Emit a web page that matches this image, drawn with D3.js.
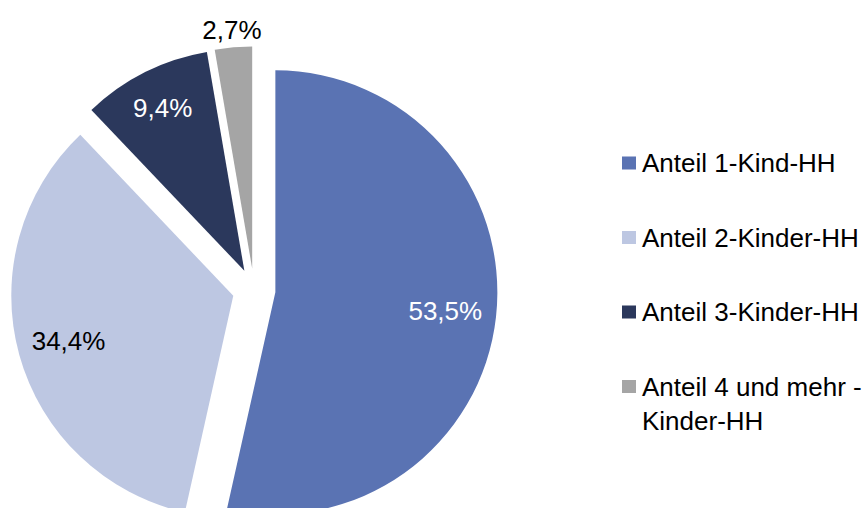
<!DOCTYPE html>
<html>
<head>
<meta charset="utf-8">
<script src="https://cdn.jsdelivr.net/npm/d3@7"></script>
<style>
  body { margin: 0; background: #fff; }
  svg { display: block; font-family: "Liberation Sans", Arial, sans-serif; }
</style>
</head>
<body>
<div id="chart"></div>
<script>
// data
var categories = ["Anteil 1-Kind-HH", "Anteil 2-Kinder-HH", "Anteil 3-Kinder-HH", "Anteil 4 und mehr -\nKinder-HH"];
var values = [53.5, 34.4, 9.4, 2.7];
var labels = ["53,5%", "34,4%", "9,4%", "2,7%"];
var colors = ["#5a73b3", "#bdc7e2", "#2b385c", "#a5a5a5"];

var width = 868, height = 508;
var cx = 254, cy = 290, r = 222, explode = 21.5;

var svg = d3.select("#chart").append("svg")
    .attr("width", width)
    .attr("height", height);

var data = values.map(function(v, i) { return { name: categories[i], value: v, label: labels[i], color: colors[i] }; });

// first slice starts at 12 o'clock and goes clockwise
var pie = d3.pie().value(function(d) { return d.value; }).sort(null);
var arc = d3.arc().innerRadius(0).outerRadius(r);

var g = svg.append("g").attr("transform", "translate(" + cx + "," + cy + ")");

var slices = g.selectAll("g.slice")
    .data(pie(data))
    .enter()
    .append("g")
    .attr("class", "slice")
    .attr("transform", function(d) {
        var a = (d.startAngle + d.endAngle) / 2;
        return "translate(" + [explode * Math.sin(a), -explode * Math.cos(a)] + ")";
    });

slices.append("path")
    .attr("d", arc)
    .style("fill", function(d) { return d.data.color; });

// labels: inside for the big ones, outside for the tiny one
slices.append("text")
    .attr("transform", function(d) {
        var a = (d.startAngle + d.endAngle) / 2;
        var lr = d.data.value < 5 ? r * 1.08 : (d.data.value < 20 ? r * 0.82 : r * 0.77);
        return "translate(" + [lr * Math.sin(a), -lr * Math.cos(a)] + ")";
    })
    .attr("text-anchor", "middle")
    .attr("dy", "0.35em")
    .style("font-size", "26px")
    .style("fill", function(d, i) { return (i == 0 || i == 2) ? "#fff" : "#000"; })
    .text(function(d) { return d.data.label; });

// legend
var legend = svg.append("g").attr("transform", "translate(622,163)");
var rowY = d3.scaleLinear().domain([0, 1]).range([0, 74.5]);

var item = legend.selectAll("g.item")
    .data(data)
    .enter()
    .append("g")
    .attr("class", "item")
    .attr("transform", function(d, i) { return "translate(0," + rowY(i) + ")"; });

item.append("rect")
    .attr("x", 0)
    .attr("y", -6.5)
    .attr("width", 14)
    .attr("height", 13)
    .style("fill", function(d) { return d.color; });

item.append("text")
    .attr("x", 20)
    .attr("y", 9)
    .style("font-size", "26px")
    .style("fill", "#000")
    .selectAll("tspan")
    .data(function(d) { return d.name.split("\n"); })
    .enter()
    .append("tspan")
    .attr("x", 20)
    .attr("dy", function(t, j) { return j == 0 ? 0 : 34; })
    .text(function(t) { return t; });
</script>
</body>
</html>
